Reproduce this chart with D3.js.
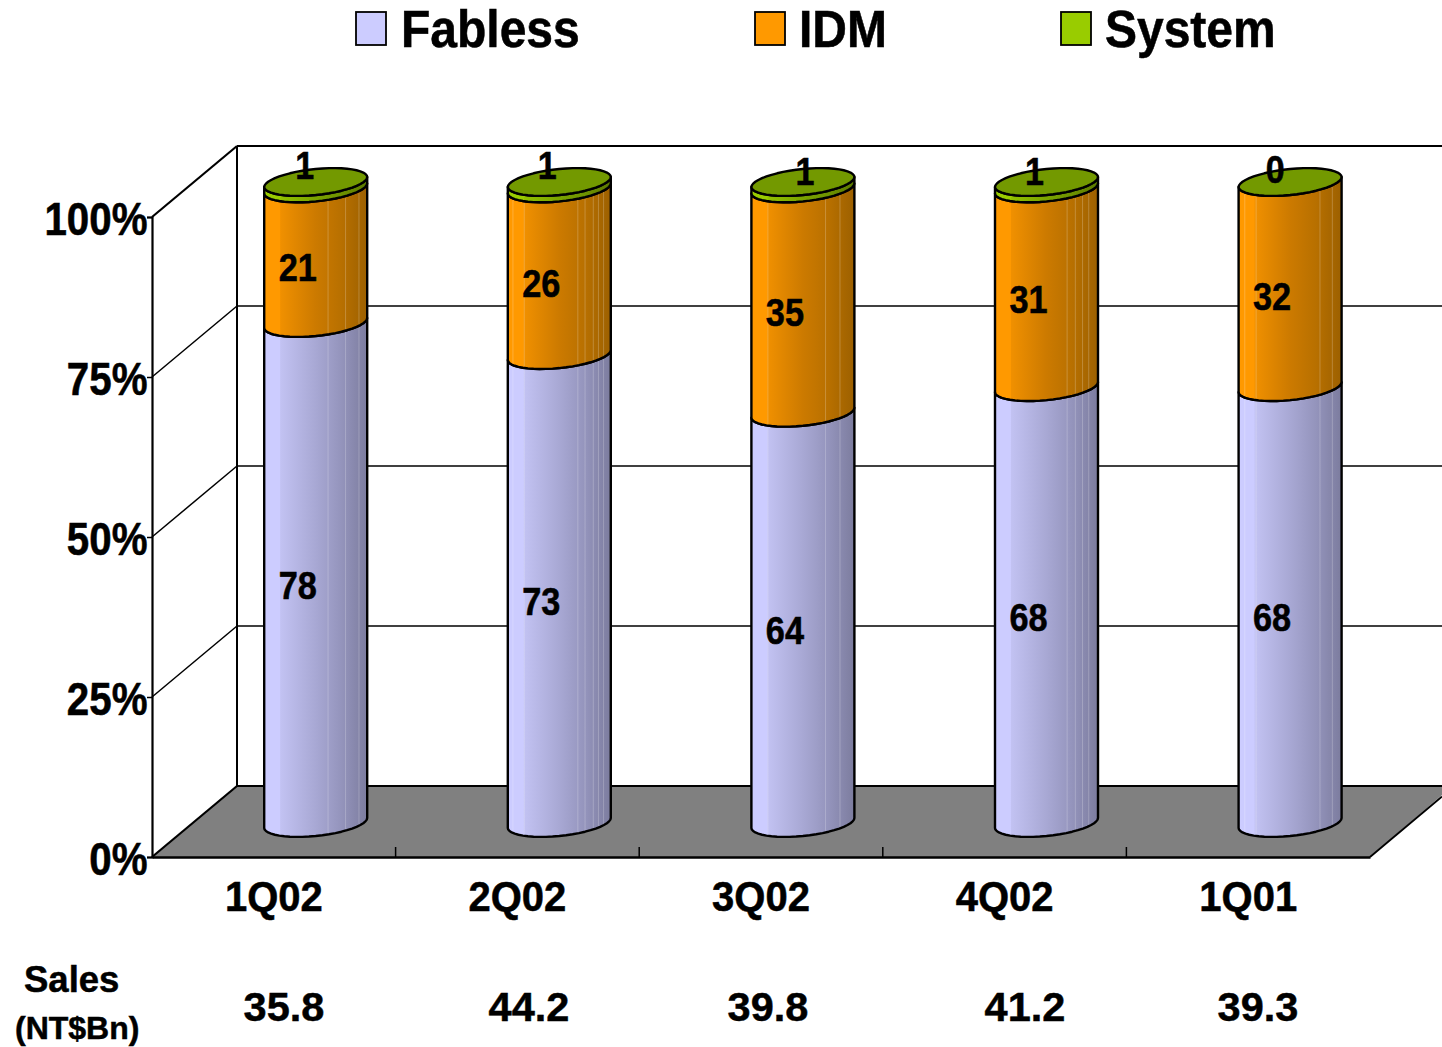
<!DOCTYPE html>
<html><head><meta charset="utf-8">
<script src="https://cdn.jsdelivr.net/npm/d3@7"></script>
<style>html,body{margin:0;padding:0;background:#fff;overflow:hidden}svg{display:block}text{font-family:"Liberation Sans",Arial,sans-serif;font-weight:bold;fill:#000;stroke:#000;stroke-width:.5px}</style>
</head><body><svg id="c" width="1442" height="1047"></svg>
<script>
const categories=["1Q02","2Q02","3Q02","4Q02","1Q01"];
const fabless=[78,73,64,68,68];
const idm=[21,26,35,31,32];
const system=[1,1,1,1,0];
const sales=["35.8","44.2","39.8","41.2","39.3"];
const yTicks=[0,25,50,75,100];
const seriesNames=["Fabless","IDM","System"];

// layout
const svg=d3.select("#c");
const X0=152,X1=1370,Y0=857,Y100=217,DX=85,DY=71,RIGHT=1442;
const x=d3.scaleBand().domain(categories).range([X0,X1]).paddingInner(0).paddingOuter(0);
const y=d3.scaleLinear().domain([0,100]).range([Y0,Y100]);
const yBar=d3.scaleLinear().domain([0,100]).range([823,182]);
const A=51.5,B=13,K=5,ROUND=.72;
const cxOf=c=>x(c)+x.bandwidth()/2+41.9;
const palette={Fabless:["#CCCCFF","#C2C2F2","#A8A8D4","#9494BC","#7C7C9E"],IDM:["#FF9900","#F09000","#CC7A00","#B87000","#9C6000"],System:["#99CC00","#90C000","#7AA300","#6E9200","#5C7A00"]};
const capColor="#739900";
const salesCenters=[284,529,768,1025,1258];
const systemLabelDx=[-11,-12,2,-12,-15],systemLabelY=[179,179,185,185,183];
const streaks=[[.62,.79,.92],[.05,.16,.68,.75,.83,.88,.93],[.16,.72,.86],[.7,.78,.85,.91],[.06,.17,.79,.91]];

const defs=svg.append("defs");
seriesNames.forEach(s=>{
  const g=defs.append("linearGradient").attr("id","g"+s).attr("x1",0).attr("x2",1).attr("y1",0).attr("y2",0);
  [[0,0],[.15,0],[.16,1],[.5,2],[.75,3],[1,4]].forEach(([o,i])=>g.append("stop").attr("offset",o).attr("stop-color",palette[s][i]));
});

function txt(parent,t,px,py,size,anchor,sy){
  return parent.append("text").text(t).attr("font-size",size).attr("text-anchor",anchor||"start")
    .attr("transform",`translate(${px},${py}) scale(1,${sy||1})`);
}

// floor
svg.append("path").attr("d",`M${X0},${Y0}L${X0+DX},${Y0-DY}L${RIGHT},${Y0-DY}L${RIGHT},${Y0-DY+9}L${X1},${Y0}Z`).attr("fill","#808080");

// walls and gridlines
const grid=svg.append("g").attr("stroke","#000").attr("fill","none");
yTicks.forEach(t=>{
  const yy=y(t);
  grid.append("line").attr("x1",X0).attr("y1",yy).attr("x2",X0+DX).attr("y2",yy-DY).attr("stroke-width",t===0||t===100?2.2:1.5);
  grid.append("line").attr("x1",X0+DX).attr("y1",yy-DY).attr("x2",RIGHT).attr("y2",yy-DY).attr("stroke-width",t===100||t===0?2.2:1.5);
});
grid.append("line").attr("x1",X0+DX).attr("y1",Y100-DY).attr("x2",X0+DX).attr("y2",Y0-DY).attr("stroke-width",2);
grid.append("line").attr("x1",X1).attr("y1",Y0).attr("x2",RIGHT).attr("y2",Y0-60.5).attr("stroke-width",1.8);

// y axis
const yAxis=svg.append("g").attr("transform",`translate(${X0},0)`)
  .call(d3.axisLeft(y).tickValues(yTicks).tickSize(5).tickFormat(d=>d+"%"));
yAxis.select(".domain").attr("stroke","#000").attr("stroke-width",2.2);
yAxis.selectAll("line").attr("stroke","#000").attr("stroke-width",1.5);
yAxis.selectAll("text").attr("font-size",40.3).attr("font-family",null).attr("fill","#000").attr("x",null).attr("dy",null)
  .attr("text-anchor","end").attr("transform","translate(-4.5,17) scale(1,1.15)");

// x axis
const xAxis=svg.append("g").attr("transform",`translate(0,${Y0})`)
  .call(d3.axisBottom(x).tickSize(0));
xAxis.attr("font-family",null).attr("font-size",null);
xAxis.select(".domain").attr("stroke","#000").attr("stroke-width",2.6);
xAxis.selectAll("text").attr("font-size",40).attr("fill","#000").attr("y",null).attr("dy",null)
  .attr("transform","translate(0,54) scale(1,1.08)");
categories.slice(1).forEach(c=>{
  svg.append("line").attr("x1",x(c)).attr("x2",x(c)).attr("y1",Y0-10).attr("y2",Y0).attr("stroke","#000").attr("stroke-width",1.5);
});

// cylinders
const sag=u=>Math.pow(Math.max(0,1-u*u),ROUND/1.4);
function arc(cx,y0,b,reverse){
  const pts=d3.range(0,25).map(i=>{
    const th=Math.PI*i/24,u=-Math.cos(th);
    return [cx+A*u,y0-K*u+b*sag(u)];
  });
  return reverse?pts.reverse():pts;
}
const line=d3.line().curve(d3.curveLinear);
const bars=svg.append("g");
categories.forEach((c,i)=>{
  const cx=cxOf(c);
  const stacks=[["Fabless",fabless[i]],["IDM",idm[i]],["System",system[i]]];
  let acc=0;
  stacks.forEach(([name,v])=>{
    if(v<=0)return;
    const yb=yBar(acc),yt=yBar(acc+v);
    const low=arc(cx,yb,B,true),up=arc(cx,yt,B,false);
    bars.append("path").attr("d",line(up.concat(low))+"Z").attr("fill",`url(#g${name})`).attr("stroke","#000").attr("stroke-width",2.4).attr("stroke-linejoin","round");
    if(v>5)streaks[i].forEach(f=>{
      const u=2*f-1,s=sag(u),xx=cx+A*u;
      bars.append("line").attr("x1",xx).attr("x2",xx)
        .attr("y1",yt-K*u+B*s+1.5).attr("y2",yb-K*u+B*s-1.5)
        .attr("stroke","#fff").attr("stroke-opacity",.22).attr("stroke-width",1);
    });
    acc+=v;
  });
  const top=arc(cx,yBar(100),B,false);
  const topUp=top.map(([px,py])=>[px,2*(yBar(100)-K*(px-cx)/A)-py]).reverse();
  bars.append("path").attr("d",line(top.concat(topUp))+"Z").attr("fill",capColor).attr("stroke","#000").attr("stroke-width",2.4).attr("stroke-linejoin","round");
});

// data labels
const labels=svg.append("g");
const LBLDX=-18;
categories.forEach((c,i)=>{
  const cx=cxOf(c);
  txt(labels,fabless[i],cx+LBLDX,yBar(fabless[i]/2)+26,34.3,"middle",1.15);
  txt(labels,idm[i],cx+LBLDX,yBar(fabless[i]+idm[i]/2)+25,34.3,"middle",1.15);
  txt(labels,system[i],cx+systemLabelDx[i],systemLabelY[i],34,"middle",1.15);
});

// sales row
const salesRow=svg.append("g");
sales.forEach((s,i)=>txt(salesRow,s,salesCenters[i],1021,41.5,"middle"));
txt(salesRow,"Sales",24,992,36.5,"start");
txt(salesRow,"(NT$Bn)",15,1039,32,"start");

// legend
const legend=svg.append("g");
[[356,401],[755,799],[1061,1105]].forEach(([sx,tx],i)=>{
  const name=seriesNames[i];
  legend.append("rect").attr("x",sx).attr("y",12).attr("width",30).attr("height",33)
    .attr("fill",palette[name][0]).attr("stroke","#000").attr("stroke-width",1.8);
  txt(legend,name,tx,47,48,"start",1.08);
});
</script></body></html>
